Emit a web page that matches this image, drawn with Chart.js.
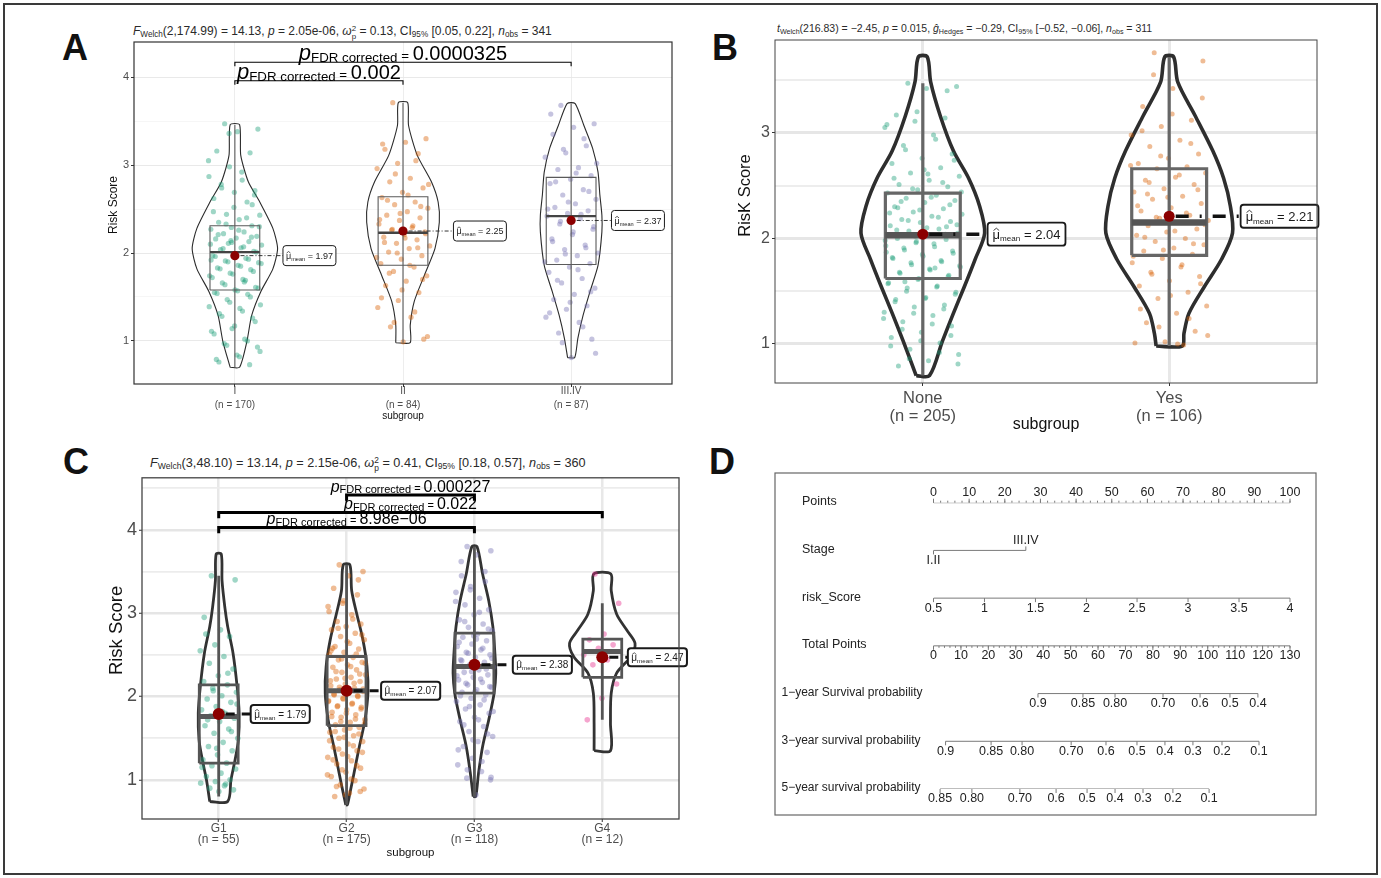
<!DOCTYPE html>
<html>
<head>
<meta charset="utf-8">
<title>Risk score by subgroup</title>
<script src="https://cdn.jsdelivr.net/npm/chart.js@4.4.1/dist/chart.umd.min.js"></script>
<style>
  html, body { margin: 0; padding: 0; background: #fff; }
  body { width: 1381px; height: 878px; position: relative; overflow: hidden; font-family: "Liberation Sans", Arial, sans-serif; color: #222; }
  .frame { position: absolute; left: 3px; top: 3px; width: 1375px; height: 872px; border: 2px solid #3a3a3a; box-sizing: border-box; }
  .letter { position: absolute; font-size: 36px; font-weight: bold; line-height: 36px; color: #111; }
  .stats { position: absolute; white-space: nowrap; color: #2a2a2a; line-height: 1; }
  .stats sub { font-size: 68%; vertical-align: -0.3em; line-height: 0; }
  .ss { display: inline-flex; flex-direction: column; font-size: 66%; line-height: 1; vertical-align: 0.45em; }
  canvas { position: absolute; }
</style>
</head>
<body>
<div class="frame"></div>

<div class="letter" style="left:62px;top:30px">A</div>
<div class="letter" style="left:712px;top:30px">B</div>
<div class="letter" style="left:63px;top:444px">C</div>
<div class="letter" style="left:709px;top:444px">D</div>

<div class="stats" style="left:133px;top:25px;font-size:12px"><i>F</i><sub>Welch</sub>(2,174.99) = 14.13, <i>p</i> = 2.05e-06, <i>ω</i><span class="ss"><span>2</span><span>p</span></span> = 0.13, CI<sub>95%</sub> [0.05, 0.22], <i>n</i><sub>obs</sub> = 341</div>
<div class="stats" style="left:777px;top:23px;font-size:10.5px"><i>t</i><sub>Welch</sub>(216.83) = −2.45, <i>p</i> = 0.015, <i>ĝ</i><sub>Hedges</sub> = −0.29, CI<sub>95%</sub> [−0.52, −0.06], <i>n</i><sub>obs</sub> = 311</div>
<div class="stats" style="left:150px;top:456px;font-size:12.7px"><i>F</i><sub>Welch</sub>(3,48.10) = 13.14, <i>p</i> = 2.15e-06, <i>ω</i><span class="ss"><span>2</span><span>p</span></span> = 0.41, CI<sub>95%</sub> [0.18, 0.57], <i>n</i><sub>obs</sub> = 360</div>

<canvas id="chartA" width="600" height="400" style="left:100px;top:30px"></canvas>
<canvas id="chartB" width="620" height="420" style="left:730px;top:28px"></canvas>
<canvas id="chartC" width="600" height="400" style="left:100px;top:465px"></canvas>
<canvas id="chartD" width="560" height="360" style="left:770px;top:465px"></canvas>

<script>
const FONT = '"Liberation Sans", Arial, sans-serif';
const pointColors = ['rgba(27,158,119,0.42)', 'rgba(217,95,2,0.42)', 'rgba(117,112,179,0.42)', 'rgba(231,41,138,0.42)'];

// ---------- A: risk score by stage ----------
const stageGroups = ['I', 'II', 'III.IV'];
const stageCounts = [170, 84, 87];
const stageMeans = [1.97, 2.25, 2.37];
const stageQ1 = [1.58, 1.86, 1.87];
const stageMedian = [2.01, 2.23, 2.42];
const stageQ3 = [2.31, 2.64, 2.86];
const stageLow = [0.70, 0.98, 0.81];
const stageHigh = [3.46, 3.71, 3.70];
const stageViolinY = [
    [0.70, 0.99, 1.29, 1.56, 1.82, 2.05, 2.28, 2.58, 2.81, 3.11, 3.46],
    [0.98, 1.18, 1.45, 1.75, 2.05, 2.35, 2.58, 2.81, 3.11, 3.45, 3.71],
    [0.81, 1.03, 1.29, 1.56, 1.86, 2.24, 2.43, 2.66, 2.92, 3.19, 3.45, 3.70]
];
const stageViolinW = [
    [0.028, 0.071, 0.10, 0.154, 0.226, 0.254, 0.226, 0.148, 0.08, 0.035, 0.028],
    [0.043, 0.043, 0.067, 0.128, 0.19, 0.216, 0.209, 0.169, 0.085, 0.033, 0.028],
    [0.021, 0.04, 0.071, 0.112, 0.16, 0.183, 0.183, 0.171, 0.16, 0.128, 0.076, 0.024]
];
const stagePointsI = [3.47, 3.41, 3.38, 3.16, 3.14, 2.98, 2.87, 2.83, 2.74, 2.71, 2.69, 2.62, 2.58, 2.44, 2.43, 2.38, 2.35, 2.31, 2.29, 2.27,
    2.24, 2.22, 2.19, 2.17, 2.16, 2.13, 2.11, 2.09, 2.06, 2.04, 2.02, 1.99, 1.97, 1.94, 1.91, 1.89, 1.86, 1.83, 1.81, 1.77,
    1.74, 1.70, 1.66, 1.61, 1.58, 1.55, 1.53, 1.47, 1.41, 1.37, 1.31, 1.26, 1.14, 1.11, 1.02, 0.97, 0.93, 0.84, 0.79, 0.73,
    3.36, 3.05, 2.92, 2.78, 2.66, 2.52, 2.47, 2.40, 2.33, 2.30, 2.26, 2.21, 2.18, 2.14, 2.10, 2.07, 2.05, 2.01, 1.98, 1.96,
    1.93, 1.90, 1.88, 1.85, 1.82, 1.79, 1.76, 1.72, 1.69, 1.64, 1.60, 1.57, 1.54, 1.50, 1.44, 1.39, 1.34, 1.28, 1.22, 1.17,
    1.08, 1.00, 0.95, 0.88, 0.82, 0.76, 2.55, 2.12, 1.92, 1.67];
const stagePointsII = [3.71, 3.30, 3.26, 3.18, 3.13, 3.02, 2.96, 2.85, 2.81, 2.74, 2.69, 2.63, 2.58, 2.55, 2.51, 2.47, 2.43, 2.40, 2.37, 2.33,
    2.29, 2.26, 2.24, 2.21, 2.18, 2.15, 2.11, 2.08, 2.05, 2.01, 1.97, 1.93, 1.88, 1.84, 1.79, 1.74, 1.68, 1.63, 1.55, 1.46,
    1.38, 1.27, 1.16, 1.02, 0.99, 3.24, 3.05, 2.90, 2.78, 2.66, 2.60, 2.53, 2.45, 2.38, 2.31, 2.27, 2.22, 2.17, 2.12, 2.06,
    2.00, 1.95, 1.86, 1.77, 1.70, 1.58, 1.49, 1.33, 1.21, 1.05];
const stagePointsIII = [3.68, 3.47, 3.43, 3.35, 3.22, 3.14, 3.09, 2.97, 2.95, 2.88, 2.84, 2.79, 2.72, 2.66, 2.61, 2.56, 2.52, 2.48, 2.45, 2.42,
    2.39, 2.33, 2.27, 2.21, 2.16, 2.09, 2.04, 2.00, 1.97, 1.92, 1.88, 1.84, 1.78, 1.71, 1.66, 1.60, 1.53, 1.47, 1.40, 1.36,
    1.27, 1.21, 1.09, 1.02, 0.81, 3.58, 3.30, 3.18, 3.02, 2.91, 2.81, 2.70, 2.58, 2.50, 2.44, 2.36, 2.30, 2.24, 2.13, 2.06,
    1.99, 1.90, 1.81, 1.69, 1.56, 1.44, 1.32, 1.16, 0.98, 0.86];
const stagePairFrom = [0, 0];
const stagePairTo = [1, 2];
const stagePairY = [3.96, 4.17];
const stagePairP = ['0.002', '0.0000325'];

// ---------- B: risk score by None / Yes ----------
const metGroups = ['None', 'Yes'];
const metCounts = [205, 106];
const metMeans = [2.04, 2.21];
const metQ1 = [1.62, 1.84];
const metMedian = [2.03, 2.15];
const metQ3 = [2.43, 2.66];
const metLow = [0.70, 0.98];
const metHigh = [3.47, 3.72];
const metViolinY = [
    [0.70, 1.03, 1.29, 1.54, 1.80, 2.05, 2.31, 2.57, 2.83, 3.16, 3.48, 3.72],
    [0.98, 1.10, 1.29, 1.54, 1.80, 2.05, 2.31, 2.57, 2.83, 3.16, 3.48, 3.72]
];
const metViolinW = [
    [0.027, 0.08, 0.124, 0.168, 0.212, 0.251, 0.23, 0.186, 0.124, 0.071, 0.032, 0.018],
    [0.053, 0.06, 0.08, 0.142, 0.212, 0.257, 0.248, 0.221, 0.177, 0.106, 0.035, 0.018]
];
const metPointsNone = [3.47, 3.44, 3.42, 3.17, 3.14, 3.11, 3.05, 2.98, 2.88, 2.80, 2.76, 2.71, 2.67, 2.62, 2.59, 2.55, 2.51, 2.49, 2.46, 2.43,
    2.41, 2.38, 2.36, 2.34, 2.30, 2.28, 2.25, 2.23, 2.21, 2.18, 2.16, 2.15, 2.12, 2.09, 2.07, 2.05, 2.03, 2.00, 1.99, 1.96,
    1.93, 1.92, 1.89, 1.86, 1.83, 1.81, 1.78, 1.75, 1.73, 1.70, 1.67, 1.65, 1.62, 1.58, 1.55, 1.53, 1.49, 1.44, 1.42, 1.37,
    1.35, 1.30, 1.27, 1.21, 1.17, 1.11, 1.06, 1.01, 0.95, 0.90, 0.84, 0.79, 3.40, 3.20, 3.08, 2.94, 2.84, 2.74, 2.65, 2.57,
    2.53, 2.47, 2.44, 2.39, 2.35, 2.32, 2.27, 2.24, 2.20, 2.17, 2.13, 2.10, 2.08, 2.04, 2.02, 1.98, 1.95, 1.91, 1.88, 1.85,
    1.82, 1.79, 1.77, 1.74, 1.71, 1.68, 1.64, 1.61, 1.57, 1.54, 1.50, 1.47, 1.43, 1.40, 1.33, 1.29, 1.24, 1.19, 1.14, 1.08,
    1.03, 0.98, 0.92, 0.86, 0.81, 2.61, 2.29, 2.11, 1.97, 1.87, 1.72, 1.59];
const metPointsYes = [3.76, 3.68, 3.42, 3.25, 3.12, 3.06, 2.98, 2.93, 2.87, 2.80, 2.76, 2.71, 2.68, 2.66, 2.62, 2.58, 2.55, 2.51, 2.47, 2.44,
    2.40, 2.37, 2.33, 2.29, 2.26, 2.22, 2.19, 2.17, 2.15, 2.12, 2.09, 2.06, 2.03, 2.00, 1.97, 1.94, 1.91, 1.88, 1.85, 1.81,
    1.77, 1.73, 1.68, 1.64, 1.60, 1.55, 1.49, 1.43, 1.36, 1.29, 1.20, 1.12, 1.02, 1.01, 0.99, 3.55, 3.33, 3.18, 3.02, 2.90,
    2.78, 2.69, 2.60, 2.53, 2.46, 2.39, 2.31, 2.24, 2.20, 2.13, 2.07, 2.01, 1.95, 1.89, 1.83, 1.75, 1.66, 1.57, 1.46, 1.33,
    1.24, 1.16, 1.08, 1.00, 2.42];

// ---------- C: risk score by grade ----------
const gradeGroups = ['G1', 'G2', 'G3', 'G4'];
const gradeCounts = [55, 175, 118, 12];
const gradeMeans = [1.79, 2.07, 2.38, 2.47];
const gradeQ1 = [1.20, 1.65, 2.04, 2.23];
const gradeMedian = [1.76, 2.07, 2.36, 2.54];
const gradeQ3 = [2.14, 2.48, 2.76, 2.69];
const gradeLow = [0.80, 0.70, 0.80, 1.72];
const gradeHigh = [3.45, 3.58, 3.80, 3.12];
const gradeViolinY = [
    [0.74, 1.00, 1.24, 1.48, 1.80, 2.12, 2.52, 2.84, 3.07, 3.39, 3.71],
    [0.70, 0.84, 1.08, 1.40, 1.72, 2.04, 2.36, 2.68, 2.99, 3.27, 3.58],
    [0.80, 1.08, 1.40, 1.72, 2.04, 2.28, 2.52, 2.84, 3.15, 3.47, 3.80],
    [1.35, 1.68, 2.04, 2.28, 2.48, 2.64, 2.80, 2.99, 3.27, 3.47]
];
const gradeViolinW = [
    [0.07, 0.096, 0.128, 0.154, 0.16, 0.144, 0.112, 0.07, 0.048, 0.026, 0.02],
    [0.006, 0.026, 0.058, 0.10, 0.144, 0.167, 0.16, 0.128, 0.08, 0.04, 0.026],
    [0.01, 0.032, 0.064, 0.112, 0.154, 0.167, 0.16, 0.144, 0.112, 0.064, 0.02],
    [0.064, 0.064, 0.07, 0.112, 0.224, 0.256, 0.19, 0.112, 0.07, 0.067]
];
const gradePointsG1 = [3.45, 3.40, 2.80, 2.75, 2.72, 2.62, 2.55, 2.48, 2.40, 2.33, 2.25, 2.18, 2.14, 2.10, 2.05, 2.01, 1.97, 1.93, 1.88, 1.84,
    1.80, 1.77, 1.74, 1.70, 1.65, 1.61, 1.56, 1.50, 1.45, 1.40, 1.35, 1.30, 1.24, 1.20, 1.17, 1.13, 1.08, 1.04, 1.00, 0.98,
    0.96, 0.93, 0.90, 0.88, 0.86, 2.95, 2.28, 2.07, 1.91, 1.82, 1.72, 1.58, 1.38, 1.15, 0.95];
const gradePointsG2 = [3.58, 3.50, 3.45, 3.30, 3.22, 3.12, 3.08, 2.98, 2.90, 2.87, 2.84, 2.80, 2.76, 2.72, 2.68, 2.64, 2.60, 2.57, 2.53, 2.50,
    2.47, 2.44, 2.41, 2.38, 2.35, 2.32, 2.29, 2.26, 2.23, 2.21, 2.18, 2.15, 2.13, 2.10, 2.08, 2.06, 2.04, 2.02, 2.00, 1.97,
    1.95, 1.92, 1.89, 1.87, 1.84, 1.81, 1.78, 1.75, 1.72, 1.69, 1.66, 1.63, 1.60, 1.57, 1.53, 1.50, 1.46, 1.43, 1.39, 1.35,
    1.31, 1.27, 1.23, 1.19, 1.14, 1.09, 1.04, 0.99, 0.94, 0.89, 0.84, 0.80, 3.40, 3.15, 3.02, 2.93, 2.82, 2.74, 2.66, 2.58,
    2.51, 2.45, 2.40, 2.36, 2.30, 2.27, 2.22, 2.19, 2.16, 2.11, 2.09, 2.05, 2.03, 2.01, 1.98, 1.94, 1.91, 1.88, 1.85, 1.80,
    1.76, 1.73, 1.70, 1.67, 1.62, 1.58, 1.55, 1.51, 1.47, 1.41, 1.37, 1.33, 1.28, 1.24, 1.17, 1.12, 1.06, 1.01, 0.92, 0.86,
    0.82, 2.55];
const gradePointsG3 = [3.80, 3.75, 3.70, 3.45, 3.38, 3.32, 3.25, 3.18, 3.10, 3.04, 2.98, 2.92, 2.87, 2.83, 2.79, 2.75, 2.71, 2.67, 2.63, 2.60,
    2.56, 2.53, 2.50, 2.47, 2.44, 2.41, 2.38, 2.35, 2.32, 2.29, 2.26, 2.23, 2.20, 2.17, 2.14, 2.11, 2.08, 2.05, 2.02, 1.98,
    1.94, 1.90, 1.85, 1.80, 1.75, 1.70, 1.64, 1.58, 1.52, 1.46, 1.40, 1.33, 1.26, 1.18, 1.10, 1.02, 1.00, 0.82, 3.62, 3.50,
    3.28, 3.14, 3.01, 2.90, 2.81, 2.73, 2.65, 2.58, 2.52, 2.46, 2.40, 2.36, 2.33, 2.30, 2.25, 2.21, 2.16, 2.12, 2.06, 2.01,
    1.96, 1.88, 1.82, 1.72, 1.66, 1.55, 1.48, 1.36, 1.22, 1.12, 1.03, 2.69, 2.43];
const gradePointsG4 = [3.47, 3.12, 2.75, 2.68, 2.62, 2.58, 2.50, 2.44, 2.38, 2.15, 1.98, 1.72];
const gradePairFrom = [1, 0, 0];
const gradePairTo = [2, 3, 2];
const gradePairY = [4.42, 4.21, 4.03];
const gradePairP = ['0.000227', '0.022', '8.98e−06'];

// ---------- D: nomogram ----------
const nomoRowNames = ['Points', 'Stage', 'risk_Score', 'Total Points', '1−year Survival probability', '3−year survival probability', '5−year survival probability'];
const nomoPointTicks = [0, 10, 20, 30, 40, 50, 60, 70, 80, 90, 100];
const nomoStageLabels = ['I.II', 'III.IV'];
const nomoStagePoints = [0, 25.9];
const nomoRiskLabels = ['0.5', '1', '1.5', '2', '2.5', '3', '3.5', '4'];
const nomoRiskPoints = [0, 14.3, 28.6, 42.9, 57.1, 71.4, 85.7, 100];
const nomoTotalTicks = [0, 10, 20, 30, 40, 50, 60, 70, 80, 90, 100, 110, 120, 130];
const nomoSurv1Labels = ['0.9', '0.85', '0.80', '0.70', '0.6', '0.5', '0.4'];
const nomoSurv1Total = [38.1, 54.5, 66.2, 83.7, 97.2, 108.1, 118.3];
const nomoSurv3Labels = ['0.9', '0.85', '0.80', '0.70', '0.6', '0.5', '0.4', '0.3', '0.2', '0.1'];
const nomoSurv3Total = [4.4, 21.0, 32.3, 50.2, 62.9, 74.2, 84.4, 94.6, 105.2, 118.7];
const nomoSurv5Labels = ['0.85', '0.80', '0.70', '0.6', '0.5', '0.4', '0.3', '0.2', '0.1'];
const nomoSurv5Total = [2.4, 14.0, 31.5, 44.7, 56.0, 66.2, 76.4, 87.3, 100.5];

// ---------- styles ----------
const styleA = {
    xMin: -0.6, xMax: 2.6, yMin: 0.51, yMax: 4.40,
    yAxisWidth: 34, xAxisHeight: 46, padTop: 12, padRight: 28,
    xTickFont: 10, xLineHeight: 1.4, xTickPad: -3, yTickFont: 11,
    yTitle: 'Risk Score', yTitleFont: 12, yTitleX: 14, yTitleShift: -8, xTitleFont: 10, xTitleY: 386,
    gridMajor: '#e6e6e6', gridMinor: '#f0f0f0', gridMajorWidth: 0.9, gridMinorWidth: 0.6, vGrid: '#ebebeb', vGridWidth: 0.9,
    border: '#333', borderWidth: 1.2,
    violinColor: '#2b2b2b', violinWidth: 1.1, tension: 0.22,
    boxColor: '#5a5a5a', boxWidth: 1.1, boxHalf: 0.148, medianColor: '#444', medianWidth: 2.4,
    pointRadius: 2.6, jitter: 0.16, meanRadius: 4.6,
    labelOffset: [0.286, 0.30, 0.24], labelSize: 9, labelPad: 3, labelHeight: 20, labelBorder: 1, labelRadius: 3,
    connDash: [4, 2, 1, 2], connWidth: 1, connColor: '#333',
    bracketWidth: 1.1, bracketDrop: 0.045, bracketGap: 2,
    pSize: 22, subSize: 13.3, valueSize: 20, subDrop: 2
};
const styleB = {
    xMin: -0.6, xMax: 1.6, yMin: 0.63, yMax: 3.88,
    yAxisWidth: 45, xAxisHeight: 65, padTop: 12, padRight: 33,
    xTickFont: 16.5, xLineHeight: 1.05, xTickPad: 4, yTickFont: 16,
    yTitle: 'RisK Score', yTitleFont: 16.5, yTitleX: 15, yTitleShift: -16, xTitleFont: 16, xTitleY: 397,
    gridMajor: '#e6e6e6', gridMinor: '#ededed', gridMajorWidth: 3, gridMinorWidth: 2, vGrid: '#e8e8e8', vGridWidth: 3,
    border: '#444', borderWidth: 1,
    violinColor: '#2e2e2e', violinWidth: 3.6, tension: 0.3,
    boxColor: '#666', boxWidth: 3.2, boxHalf: 0.152, medianColor: '#555', medianWidth: 6.5,
    pointRadius: 2.5, jitter: 0.16, meanRadius: 5.5,
    labelOffset: [0.263, 0.29], labelSize: 13, labelPad: 5, labelHeight: 23, labelBorder: 1.8, labelRadius: 3,
    connDash: [13, 11, 2, 11], connWidth: 3.5, connColor: '#111',
    bracketWidth: 0, bracketDrop: 0, bracketGap: 0,
    pSize: 0, subSize: 0, valueSize: 0, subDrop: 0
};
const styleC = {
    xMin: -0.6, xMax: 3.6, yMin: 0.53, yMax: 4.625,
    yAxisWidth: 42, xAxisHeight: 46, padTop: 12, padRight: 21,
    xTickFont: 12, xLineHeight: 0.92, xTickPad: 1, yTickFont: 18,
    yTitle: 'Risk Score', yTitleFont: 18.5, yTitleX: 17, yTitleShift: -18, xTitleFont: 11.5, xTitleY: 388,
    gridMajor: '#e5e5e5', gridMinor: '#ececec', gridMajorWidth: 2.5, gridMinorWidth: 1.8, vGrid: '#e8e8e8', vGridWidth: 2.5,
    border: '#444', borderWidth: 1.3,
    violinColor: '#333', violinWidth: 2.8, tension: 0.3,
    boxColor: '#555', boxWidth: 2.8, boxHalf: 0.152, medianColor: '#585858', medianWidth: 5,
    pointRadius: 2.8, jitter: 0.15, meanRadius: 6,
    labelOffset: [0.25, 0.27, 0.30, 0.20], labelSize: 10, labelPad: 3.5, labelHeight: 18, labelBorder: 2, labelRadius: 3,
    connDash: [9, 7], connWidth: 3, connColor: '#111',
    bracketWidth: 3, bracketDrop: 0.07, bracketGap: 3,
    pSize: 16, subSize: 11, valueSize: 16, subDrop: 1.5
};

function jitterOffset(i, spread) {
    const frac = (i * 0.6180339887 + 0.31) % 1;
    return (frac - 0.5) * 2 * spread;
}

function violinOutline(center, ys, ws) {
    const left = ys.map((y, k) => ({ x: center - ws[k], y }));
    const right = ys.map((y, k) => ({ x: center + ws[k], y })).reverse();
    return [...left, ...right, left[0]];
}

function boxOutline(center, half, q1, q3, lo, hi) {
    return [
        { x: center, y: lo }, { x: center, y: hi }, { x: center, y: null },
        { x: center - half, y: q1 }, { x: center + half, y: q1 }, { x: center + half, y: q3 },
        { x: center - half, y: q3 }, { x: center - half, y: q1 }
    ];
}

function isMajor(v) {
    return Math.abs(v - Math.round(v)) < 1e-6;
}

function drawRich(ctx, parts, cx, baseline) {
    let total = 0;
    parts.forEach((p) => { ctx.font = p.font; p.w = ctx.measureText(p.text).width; total += p.w; });
    let x = cx - total / 2;
    ctx.textAlign = 'left';
    ctx.textBaseline = 'alphabetic';
    parts.forEach((p) => { ctx.font = p.font; ctx.fillText(p.text, x, baseline + (p.dy || 0)); x += p.w; });
}

function drawMeanLabel(ctx, left, cy, value, s) {
    const big = `${s.labelSize}px ${FONT}`;
    const small = `${(s.labelSize * 0.62).toFixed(1)}px ${FONT}`;
    const tail = ` = ${value.toFixed(2)}`;
    ctx.font = big;
    const wMu = ctx.measureText('μ').width;
    const wTail = ctx.measureText(tail).width;
    ctx.font = small;
    const wSub = ctx.measureText('mean').width;
    const w = wMu + wSub + wTail + 2 * s.labelPad;
    const h = s.labelHeight;

    ctx.beginPath();
    if (ctx.roundRect) ctx.roundRect(left, cy - h / 2, w, h, s.labelRadius);
    else ctx.rect(left, cy - h / 2, w, h);
    ctx.fillStyle = '#fff';
    ctx.fill();
    ctx.lineWidth = s.labelBorder;
    ctx.strokeStyle = '#1a1a1a';
    ctx.stroke();

    const base = cy + s.labelSize * 0.36;
    let x = left + s.labelPad;
    ctx.fillStyle = '#1a1a1a';
    ctx.textAlign = 'left';
    ctx.textBaseline = 'alphabetic';
    ctx.font = big;
    ctx.fillText('μ', x, base);
    const hatY = base - s.labelSize * 0.78;
    ctx.beginPath();
    ctx.moveTo(x + wMu * 0.12, hatY + s.labelSize * 0.14);
    ctx.lineTo(x + wMu * 0.5, hatY - s.labelSize * 0.04);
    ctx.lineTo(x + wMu * 0.88, hatY + s.labelSize * 0.14);
    ctx.lineWidth = Math.max(0.7, s.labelSize / 16);
    ctx.stroke();
    x += wMu;
    ctx.font = small;
    ctx.fillText('mean', x, base + s.labelSize * 0.2);
    x += wSub;
    ctx.font = big;
    ctx.fillText(tail, x, base);
}

function buildViolinChart(canvasId, d, s) {
    const datasets = [];
    d.groups.forEach((g, i) => {
        datasets.push({
            type: 'scatter', data: [{ x: i, y: d.means[i] }],
            pointRadius: s.meanRadius, backgroundColor: '#8b0000', borderWidth: 0, order: 0
        });
        datasets.push({
            type: 'line', data: [{ x: i - s.boxHalf, y: d.median[i] }, { x: i + s.boxHalf, y: d.median[i] }],
            borderColor: s.medianColor, borderWidth: s.medianWidth, pointRadius: 0, order: 1
        });
        datasets.push({
            type: 'line', data: boxOutline(i, s.boxHalf, d.q1[i], d.q3[i], d.low[i], d.high[i]),
            borderColor: s.boxColor, borderWidth: s.boxWidth, pointRadius: 0, spanGaps: false,
            borderJoinStyle: 'miter', order: 2
        });
        datasets.push({
            type: 'scatter', data: d.points[i].map((y, k) => ({ x: i + jitterOffset(k, s.jitter), y })),
            pointRadius: s.pointRadius, backgroundColor: pointColors[i], borderWidth: 0, order: 3
        });
        datasets.push({
            type: 'line', data: violinOutline(i, d.violinY[i], d.violinW[i]),
            borderColor: s.violinColor, borderWidth: s.violinWidth, pointRadius: 0, tension: s.tension,
            fill: false, order: 4
        });
    });
    d.pairFrom.forEach((from, k) => {
        const to = d.pairTo[k];
        const y = d.pairY[k];
        datasets.push({
            type: 'line',
            data: [{ x: from, y: y - s.bracketDrop }, { x: from, y }, { x: to, y }, { x: to, y: y - s.bracketDrop }],
            borderColor: '#000', borderWidth: s.bracketWidth, pointRadius: 0, borderJoinStyle: 'miter', order: 5
        });
    });

    const decor = {
        id: 'violinDecor',
        afterDatasetsDraw(chart) {
            const { ctx, scales: { x, y } } = chart;
            ctx.save();
            d.groups.forEach((g, i) => {
                const cx = x.getPixelForValue(i);
                const cy = y.getPixelForValue(d.means[i]);
                const left = x.getPixelForValue(i + s.labelOffset[i]);
                ctx.beginPath();
                ctx.setLineDash(s.connDash);
                ctx.lineWidth = s.connWidth;
                ctx.strokeStyle = s.connColor;
                ctx.moveTo(cx + s.meanRadius + 1, cy);
                ctx.lineTo(left, cy);
                ctx.stroke();
                ctx.setLineDash([]);
                drawMeanLabel(ctx, left, cy, d.means[i], s);
            });
            ctx.fillStyle = '#000';
            d.pairFrom.forEach((from, k) => {
                const mid = x.getPixelForValue((from + d.pairTo[k]) / 2);
                const base = y.getPixelForValue(d.pairY[k]) - s.bracketGap;
                drawRich(ctx, [
                    { text: 'p', font: `italic ${s.pSize}px ${FONT}` },
                    { text: 'FDR', font: `${s.subSize}px ${FONT}`, dy: s.subDrop },
                    { text: ' corrected', font: `${s.subSize}px ${FONT}`, dy: s.subDrop },
                    { text: ' = ', font: `${s.subSize}px ${FONT}` },
                    { text: d.pairP[k], font: `${s.valueSize}px ${FONT}` }
                ], mid, base);
            });
            ctx.restore();
        },
        afterDraw(chart) {
            const { ctx, chartArea: a } = chart;
            ctx.save();
            ctx.strokeStyle = s.border;
            ctx.lineWidth = s.borderWidth;
            ctx.strokeRect(a.left, a.top, a.right - a.left, a.bottom - a.top);
            ctx.fillStyle = '#111';
            ctx.textAlign = 'center';
            ctx.textBaseline = 'middle';
            ctx.font = `${s.xTitleFont}px ${FONT}`;
            ctx.fillText('subgroup', (a.left + a.right) / 2, s.xTitleY);
            ctx.translate(s.yTitleX, (a.top + a.bottom) / 2 + s.yTitleShift);
            ctx.rotate(-Math.PI / 2);
            ctx.font = `${s.yTitleFont}px ${FONT}`;
            ctx.fillText(s.yTitle, 0, 0);
            ctx.restore();
        }
    };

    return new Chart(document.getElementById(canvasId), {
        type: 'scatter',
        data: { datasets },
        plugins: [decor],
        options: {
            responsive: false,
            animation: false,
            devicePixelRatio: 1,
            events: [],
            layout: { padding: { left: 0, top: s.padTop, right: s.padRight, bottom: 0 } },
            plugins: { legend: { display: false }, tooltip: { enabled: false } },
            scales: {
                x: {
                    type: 'linear', min: s.xMin, max: s.xMax,
                    afterFit: (sc) => { sc.height = s.xAxisHeight; },
                    border: { display: false },
                    grid: { color: s.vGrid, lineWidth: s.vGridWidth, tickLength: 3, tickColor: '#333', tickWidth: 1 },
                    ticks: {
                        stepSize: 1, includeBounds: false, autoSkip: false, maxRotation: 0,
                        padding: s.xTickPad, color: '#4d4d4d',
                        font: { family: FONT, size: s.xTickFont, lineHeight: s.xLineHeight },
                        callback: (v) => {
                            const i = Math.round(v);
                            if (!isMajor(v) || i < 0 || i >= d.groups.length) return '';
                            return [d.groups[i], `(n = ${d.counts[i]})`];
                        }
                    }
                },
                y: {
                    type: 'linear', min: s.yMin, max: s.yMax,
                    afterFit: (sc) => { sc.width = s.yAxisWidth; },
                    border: { display: false },
                    grid: {
                        color: (c) => (c.tick && isMajor(c.tick.value) ? s.gridMajor : s.gridMinor),
                        lineWidth: (c) => (c.tick && isMajor(c.tick.value) ? s.gridMajorWidth : s.gridMinorWidth),
                        tickLength: 3, tickWidth: 1,
                        tickColor: (c) => (c.tick && isMajor(c.tick.value) ? '#333' : 'rgba(0,0,0,0)')
                    },
                    ticks: {
                        stepSize: 0.5, includeBounds: false, autoSkip: false, padding: 2, color: '#4d4d4d',
                        font: { family: FONT, size: s.yTickFont },
                        callback: (v) => (isMajor(v) ? String(Math.round(v)) : '')
                    }
                }
            }
        }
    });
}

function buildNomogram() {
    const totalMinor = [];
    for (let t = 0; t <= 130; t += 2) totalMinor.push(t);
    const pointMinor = [];
    for (let p = 0; p <= 100; p += 2) pointMinor.push(p);

    const rows = [
        { axis: 'xPts', row: 0, pos: nomoPointTicks, labels: nomoPointTicks.map(String), side: -1, minor: pointMinor, nameX: 32 },
        { axis: 'xPts', row: 1, pos: nomoStagePoints, labels: nomoStageLabels, sides: [1, -1], nameX: 32 },
        { axis: 'xPts', row: 2, pos: nomoRiskPoints, labels: nomoRiskLabels, side: 1, nameX: 32 },
        { axis: 'xTot', row: 3, pos: nomoTotalTicks, labels: nomoTotalTicks.map(String), side: 1, minor: totalMinor, nameX: 32 },
        { axis: 'xTot', row: 4, pos: nomoSurv1Total, labels: nomoSurv1Labels, side: 1, nameX: 11.5 },
        { axis: 'xTot', row: 5, pos: nomoSurv3Total, labels: nomoSurv3Labels, side: 1, nameX: 11.5 },
        { axis: 'xTot', row: 6, pos: nomoSurv5Total, labels: nomoSurv5Labels, side: 1, nameX: 11.5 }
    ];

    const datasets = rows.map((r) => ({
        type: 'line', xAxisID: r.axis, yAxisID: 'y',
        data: [{ x: r.pos[0], y: r.row }, { x: r.pos[r.pos.length - 1], y: r.row }],
        borderColor: '#7a7a7a', borderWidth: 1, pointRadius: 0
    }));

    const decor = {
        id: 'nomoDecor',
        afterDraw(chart) {
            const { ctx } = chart;
            const y = chart.scales.y;
            ctx.save();
            ctx.strokeStyle = '#666';
            ctx.lineWidth = 1.2;
            ctx.strokeRect(5, 8, 541, 342);
            rows.forEach((r, idx) => {
                const sx = chart.scales[r.axis];
                const py = y.getPixelForValue(r.row);
                ctx.fillStyle = '#222';
                ctx.textAlign = 'left';
                ctx.textBaseline = 'middle';
                ctx.font = `${idx >= 4 ? 12 : 12.5}px ${FONT}`;
                ctx.fillText(nomoRowNames[idx], r.nameX, py - 1);

                ctx.strokeStyle = '#7a7a7a';
                ctx.lineWidth = 1;
                if (r.minor) {
                    ctx.beginPath();
                    r.minor.forEach((v) => {
                        const px = sx.getPixelForValue(v);
                        ctx.moveTo(px, py);
                        ctx.lineTo(px, py + (r.side < 0 ? -2 : 2));
                    });
                    ctx.stroke();
                }
                ctx.font = `12.5px ${FONT}`;
                ctx.textAlign = 'center';
                r.pos.forEach((v, k) => {
                    const side = r.sides ? r.sides[k] : r.side;
                    const px = sx.getPixelForValue(v);
                    ctx.beginPath();
                    ctx.moveTo(px, py);
                    ctx.lineTo(px, py + side * 4);
                    ctx.stroke();
                    ctx.fillText(r.labels[k], px, py + side * 10);
                });
            });
            ctx.restore();
        }
    };

    return new Chart(document.getElementById('chartD'), {
        type: 'scatter',
        data: { datasets },
        plugins: [decor],
        options: {
            responsive: false,
            animation: false,
            devicePixelRatio: 1,
            events: [],
            layout: { padding: { left: 163.5, right: 40, top: 37.7, bottom: 36 } },
            plugins: { legend: { display: false }, tooltip: { enabled: false } },
            scales: {
                xPts: { type: 'linear', position: 'bottom', min: 0, max: 100, display: false },
                xTot: { type: 'linear', position: 'bottom', min: 0, max: 130, display: false },
                y: { type: 'linear', min: 0, max: 6, reverse: true, display: false }
            }
        }
    });
}

function initFigure() {
    buildViolinChart('chartA', {
        groups: stageGroups, counts: stageCounts, means: stageMeans, q1: stageQ1, median: stageMedian, q3: stageQ3,
        low: stageLow, high: stageHigh, violinY: stageViolinY, violinW: stageViolinW,
        points: [stagePointsI, stagePointsII, stagePointsIII],
        pairFrom: stagePairFrom, pairTo: stagePairTo, pairY: stagePairY, pairP: stagePairP
    }, styleA);

    buildViolinChart('chartB', {
        groups: metGroups, counts: metCounts, means: metMeans, q1: metQ1, median: metMedian, q3: metQ3,
        low: metLow, high: metHigh, violinY: metViolinY, violinW: metViolinW,
        points: [metPointsNone, metPointsYes],
        pairFrom: [], pairTo: [], pairY: [], pairP: []
    }, styleB);

    buildViolinChart('chartC', {
        groups: gradeGroups, counts: gradeCounts, means: gradeMeans, q1: gradeQ1, median: gradeMedian, q3: gradeQ3,
        low: gradeLow, high: gradeHigh, violinY: gradeViolinY, violinW: gradeViolinW,
        points: [gradePointsG1, gradePointsG2, gradePointsG3, gradePointsG4],
        pairFrom: gradePairFrom, pairTo: gradePairTo, pairY: gradePairY, pairP: gradePairP
    }, styleC);

    buildNomogram();
}

initFigure();
</script>
</body>
</html>
